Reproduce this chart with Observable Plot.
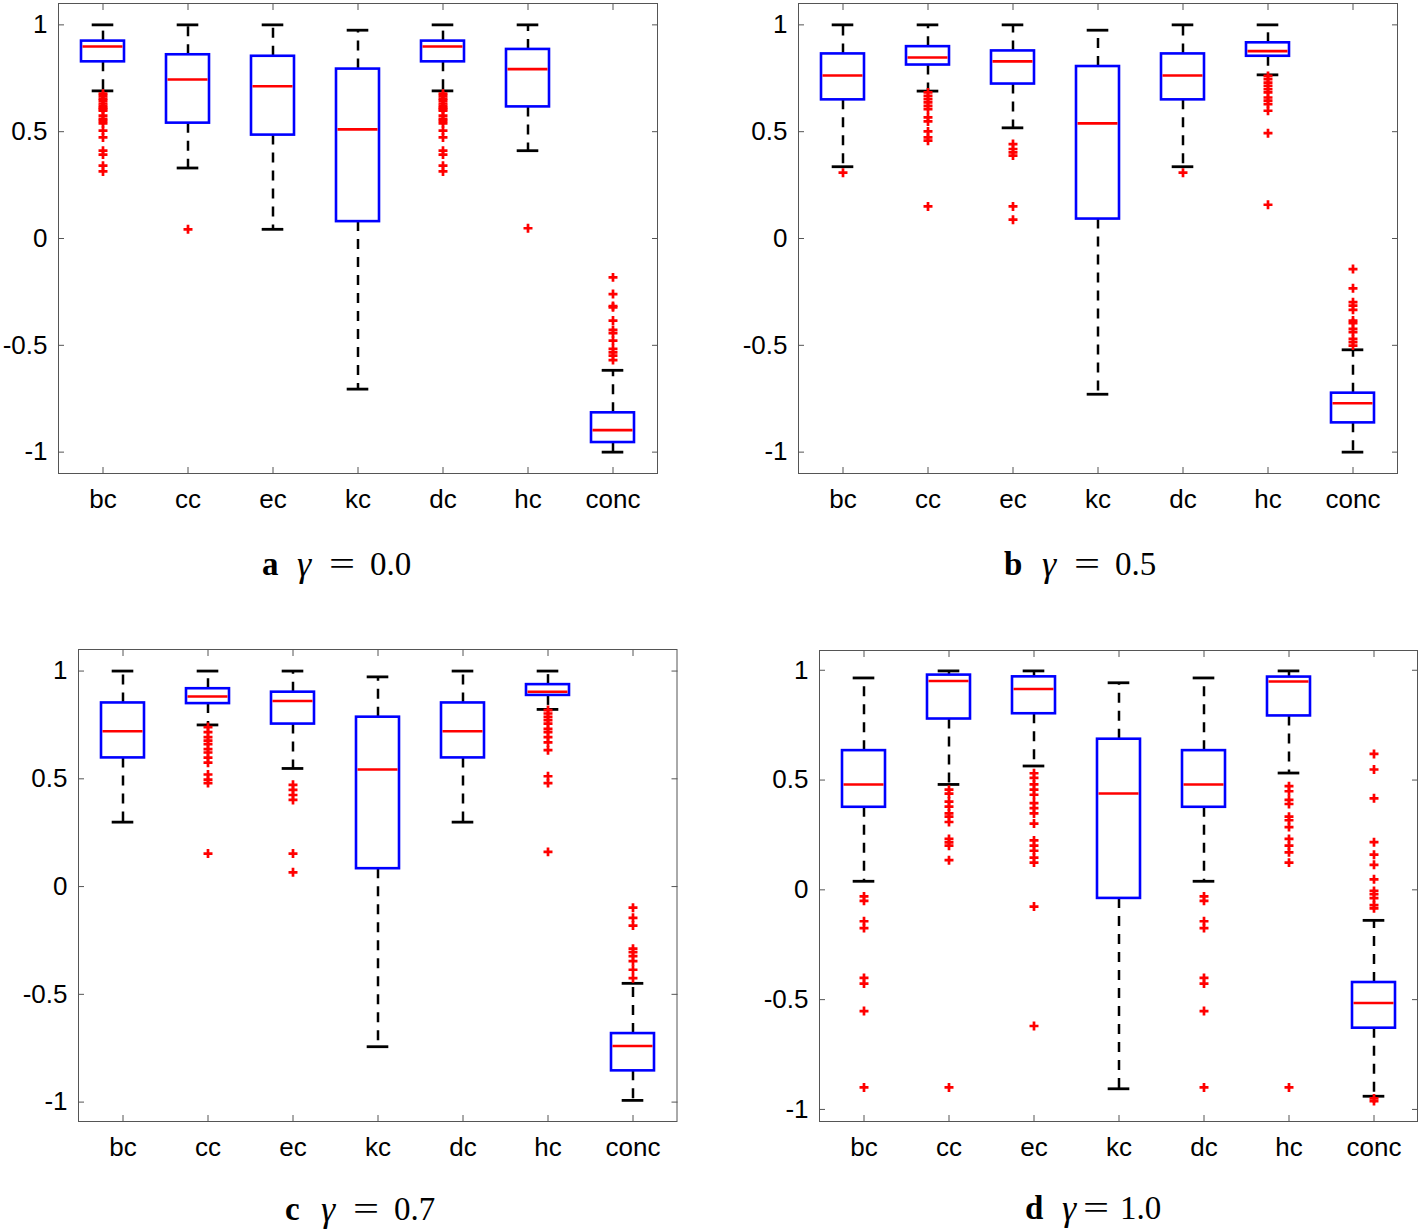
<!DOCTYPE html>
<html><head><meta charset="utf-8">
<script src="https://cdn.jsdelivr.net/npm/d3@7"></script>
<script src="https://cdn.jsdelivr.net/npm/@observablehq/plot@0.6"></script>
<style>
body{margin:0;background:#fff;}
#root{position:relative;width:1419px;height:1232px;overflow:hidden;background:#fff;}
.panel{position:absolute;}
.cap{position:absolute;height:40px;font-family:"Liberation Serif","DejaVu Serif",serif;font-size:33px;color:#000;white-space:nowrap;line-height:32px;}
.cap span{position:absolute;top:0;}
</style></head><body><div id="root"></div>
<script>
// ---------- data ----------
const categories = ["bc", "cc", "ec", "kc", "dc", "hc", "conc"];
const yTickValues = [-1, -0.5, 0, 0.5, 1];
const panelLetters = ["a", "b", "c", "d"];
const gammaValues = ["0.0", "0.5", "0.7", "1.0"];

// panel a (gamma = 0.0)
const lowA  = [0.691, 0.330, 0.043, -0.705, 0.691, 0.411, -1.000];
const q1A   = [0.827, 0.540, 0.484,  0.079, 0.827, 0.616, -0.955];
const medA  = [0.899, 0.744, 0.713,  0.511, 0.899, 0.793, -0.897];
const q3A   = [0.924, 0.860, 0.853,  0.793, 0.924, 0.885, -0.816];
const highA = [1.000, 1.000, 1.000,  0.975, 1.000, 1.000, -0.617];
const outA = [
  [0.678, 0.668, 0.655, 0.645, 0.632, 0.621, 0.612, 0.606, 0.598, 0.575, 0.560, 0.551, 0.539, 0.505, 0.473, 0.411, 0.393, 0.341, 0.314],
  [0.043],
  [],
  [],
  [0.678, 0.668, 0.655, 0.645, 0.632, 0.621, 0.612, 0.606, 0.598, 0.575, 0.560, 0.551, 0.539, 0.505, 0.473, 0.411, 0.393, 0.341, 0.314],
  [0.048],
  [-0.182, -0.260, -0.316, -0.322, -0.384, -0.428, -0.443, -0.478, -0.517, -0.533, -0.548, -0.569]
];

// panel b (gamma = 0.5)
const lowB  = [0.336, 0.690, 0.518, -0.729, 0.336, 0.766, -1.000];
const q1B   = [0.649, 0.812, 0.723,  0.091, 0.649, 0.853, -0.863];
const medB  = [0.763, 0.847, 0.829,  0.539, 0.763, 0.877, -0.771];
const q3B   = [0.864, 0.898, 0.878,  0.805, 0.864, 0.916, -0.724];
const highB = [1.000, 1.000, 1.000,  0.975, 1.000, 1.000, -0.521];
const outB = [
  [0.308],
  [0.684, 0.668, 0.652, 0.637, 0.621, 0.606, 0.567, 0.548, 0.501, 0.473, 0.458, 0.150],
  [0.442, 0.419, 0.403, 0.388, 0.150, 0.088],
  [],
  [0.308],
  [0.761, 0.746, 0.730, 0.715, 0.699, 0.684, 0.660, 0.645, 0.629, 0.598, 0.493, 0.158],
  [-0.143, -0.233, -0.298, -0.314, -0.334, -0.384, -0.396, -0.423, -0.438, -0.470, -0.485, -0.501]
];

// panel c (gamma = 0.7)
const lowC  = [0.299, 0.750, 0.548, -0.743, 0.299, 0.822, -0.992];
const q1C   = [0.597, 0.849, 0.754,  0.083, 0.597, 0.887, -0.855];
const medC  = [0.721, 0.882, 0.861,  0.543, 0.721, 0.904, -0.740];
const q3C   = [0.852, 0.918, 0.902,  0.786, 0.852, 0.937, -0.682];
const highC = [1.000, 1.000, 1.000,  0.973, 1.000, 1.000, -0.449];
const outC = [
  [],
  [0.740, 0.717, 0.693, 0.677, 0.661, 0.638, 0.622, 0.598, 0.575, 0.520, 0.496, 0.480, 0.153],
  [0.472, 0.449, 0.425, 0.402, 0.153, 0.066],
  [],
  [],
  [0.819, 0.803, 0.787, 0.772, 0.756, 0.732, 0.717, 0.693, 0.669, 0.633, 0.512, 0.480, 0.161],
  [-0.098, -0.145, -0.181, -0.288, -0.304, -0.323, -0.346, -0.386, -0.425]
];

// panel d (gamma = 1.0)
const lowD  = [0.039, 0.480, 0.564, -0.906, 0.039, 0.532, -0.940];
const q1D   = [0.376, 0.778, 0.802, -0.039, 0.376, 0.792, -0.630];
const medD  = [0.480, 0.951, 0.915,  0.439, 0.480, 0.949, -0.515];
const q3D   = [0.634, 0.978, 0.970,  0.686, 0.634, 0.969, -0.422];
const highD = [0.965, 0.997, 0.997,  0.943, 0.965, 0.997, -0.139];
const outD = [
  [-0.030, -0.050, -0.143, -0.174, -0.401, -0.427, -0.552, -0.900],
  [0.456, 0.438, 0.402, 0.379, 0.348, 0.333, 0.309, 0.232, 0.216, 0.201, 0.135, -0.900],
  [0.531, 0.510, 0.480, 0.456, 0.433, 0.395, 0.372, 0.348, 0.302, 0.225, 0.201, 0.178, 0.147, 0.124, -0.076, -0.620],
  [],
  [-0.030, -0.050, -0.143, -0.174, -0.401, -0.427, -0.552, -0.900],
  [0.472, 0.449, 0.410, 0.391, 0.333, 0.317, 0.286, 0.232, 0.201, 0.171, 0.124, -0.900],
  [0.619, 0.548, 0.417, 0.217, 0.160, 0.114, 0.048, -0.005, -0.020, -0.038, -0.070, -0.084, -0.950, -0.962]
];

// ---------- layout (style only) ----------
const layouts = [
  {L: 58,  T: 3,     R: 657,  B: 473,    dom: [-1.1, 1.1],    capX: 262,  capTop: 548},
  {L: 798, T: 3,     R: 1397, B: 473,    dom: [-1.1, 1.1],    capX: 1004, capTop: 548},
  {L: 77.5,T: 649,   R: 676,  B: 1121,   dom: [-1.09, 1.1],   capX: 285,  capTop: 1193},
  {L: 819, T: 649.5, R: 1417, B: 1120.5, dom: [-1.055, 1.09], capX: 1025, capTop: 1192}
];
const panelStats = [
  [lowA, q1A, medA, q3A, highA, outA],
  [lowB, q1B, medB, q3B, highB, outB],
  [lowC, q1C, medC, q3C, highC, outC],
  [lowD, q1D, medD, q3D, highD, outD]
];
// caption piece offsets [letter, gamma, equals, value]
const capOffsets = [
  [0, 35, 67, 108],
  [0, 38, 70, 111],
  [0, 36, 68, 109],
  [0, 37, 58, 95]
];

const root = document.getElementById("root");
const mL = 60, mR = 4, mT = 4, mB = 50;
const frameColor = "#555";

panelStats.forEach((st, p) => {
  const [lo, q1, med, q3, hi, outs] = st;
  const lay = layouts[p];
  const rows = categories.map((c, i) => ({cat: c, lo: lo[i], q1: q1[i], med: med[i], q3: q3[i], hi: hi[i]}));
  const outRows = categories.flatMap((c, i) => outs[i].map(v => ({cat: c, v})));
  const step = (lay.R - lay.L) / 7;
  const capInset = step / 8;
  const chart = Plot.plot({
    width: (lay.R - lay.L) + mL + mR,
    height: (lay.B - lay.T) + mT + mB,
    marginLeft: mL, marginRight: mR, marginTop: mT, marginBottom: mB,
    style: {fontFamily: "'Liberation Sans', Arial, Helvetica, sans-serif", fontSize: "26px", color: "#000", background: "transparent", overflow: "visible"},
    x: {type: "band", domain: categories, paddingInner: 0.5, paddingOuter: 0.25, align: 0.5, axis: null},
    y: {domain: lay.dom, axis: null},
    marks: [
      Plot.frame({stroke: frameColor, strokeWidth: 1}),
      Plot.axisY({ticks: yTickValues, anchor: "left", tickSize: 0, tickPadding: 11, tickFormat: d => String(d), label: null, fontSize: 26, color: "#000"}),
      Plot.axisY({ticks: yTickValues, anchor: "left", tickSize: 6, dx: 6, tickFormat: () => "", label: null, stroke: frameColor}),
      Plot.axisY({ticks: yTickValues, anchor: "right", tickSize: 6, dx: -6, tickFormat: () => "", label: null, stroke: frameColor}),
      Plot.axisX({anchor: "bottom", tickSize: 6, dy: -6, tickFormat: () => "", label: null, stroke: frameColor}),
      Plot.axisX({anchor: "top", tickSize: 6, dy: 6, tickFormat: () => "", label: null, stroke: frameColor}),
      Plot.axisX({anchor: "bottom", tickSize: 0, tickPadding: 16, label: null, fontSize: 26}),
      // whiskers
      Plot.ruleX(rows, {x: "cat", y1: "q3", y2: "hi", stroke: "#000", strokeWidth: 2.5, strokeDasharray: "10,8"}),
      Plot.ruleX(rows, {x: "cat", y1: "q1", y2: "lo", stroke: "#000", strokeWidth: 2.5, strokeDasharray: "10,8"}),
      // caps
      Plot.tickY(rows, {x: "cat", y: "hi", stroke: "#000", strokeWidth: 2.8, insetLeft: capInset, insetRight: capInset}),
      Plot.tickY(rows, {x: "cat", y: "lo", stroke: "#000", strokeWidth: 2.8, insetLeft: capInset, insetRight: capInset}),
      // boxes
      Plot.barY(rows, {x: "cat", y1: "q1", y2: "q3", fill: "#fff", stroke: "#0000ff", strokeWidth: 2.6}),
      // medians
      Plot.tickY(rows, {x: "cat", y: "med", stroke: "#ff0000", strokeWidth: 2.6, insetLeft: 1.5, insetRight: 1.5}),
      // outliers
      Plot.dot(outRows, {x: "cat", y: "v", symbol: "plus", r: 3, stroke: "#ff0000", strokeWidth: 2.7})
    ]
  });
  chart.classList.add("panel");
  chart.style.left = (lay.L - mL) + "px";
  chart.style.top = (lay.T - mT) + "px";
  root.appendChild(chart);

  // caption
  const cap = document.createElement("div");
  cap.className = "cap";
  cap.style.left = lay.capX + "px";
  cap.style.top = lay.capTop + "px";
  const off = capOffsets[p];
  const pieces = [
    {t: panelLetters[p], s: "font-weight:bold;"},
    {t: "γ", s: "font-style:italic;font-size:36px;"},
    {t: "=", s: "display:inline-block;transform:scaleX(1.4);transform-origin:left center;"},
    {t: gammaValues[p], s: ""}
  ];
  pieces.forEach((pc, k) => {
    const sp = document.createElement("span");
    sp.textContent = pc.t;
    sp.setAttribute("style", pc.s + "left:" + off[k] + "px;");
    cap.appendChild(sp);
  });
  root.appendChild(cap);
});
</script></body></html>
